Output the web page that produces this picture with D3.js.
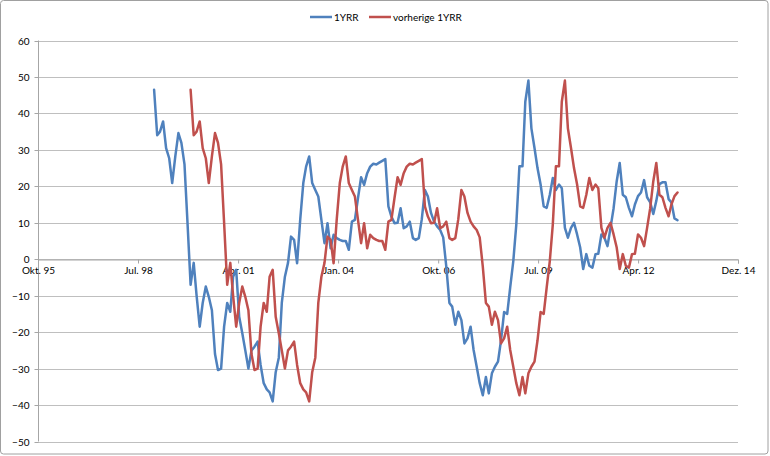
<!DOCTYPE html>
<html>
<head>
<meta charset="utf-8">
<script src="https://cdn.jsdelivr.net/npm/d3@7"></script>
<style>
  html, body { margin: 0; padding: 0; background: #fff; }
  svg { display: block; }
  text { font-family: Lato, "Open Sans", "Liberation Sans", sans-serif; }
</style>
</head>
<body>
<svg id="chart" width="770" height="456"></svg>
<script>
// ---- data ----
const seriesNames = ["1YRR", "vorherige 1YRR"];
const blueStart = "1999-01-01";
const blueValues = [
  46.5, 34, 35, 37.8, 30.5, 27.7, 20.9, 28.2, 34.6, 31.9,
  26, 10, -7, -1, -10, -18.5, -12, -7.5, -10.3, -14,
  -26, -30.4, -30, -18.5, -12, -14.4, -4.8, -2.9, -15.8, -20.3,
  -25, -30, -25, -24, -22.6, -29, -34, -35.7, -36.5, -39,
  -31, -27, -12, -4.8, -1, 6.2, 5.3, -1.1, 10.8, 20.9,
  25.4, 28.2, 20.9, 19, 17.2, 10.8, 4.4, 9.9, 3, 6.7,
  5.8, 5.3, 5, 5, 2.6, 10.3, 10.8, 16.8, 22.5, 20.4,
  23.6, 25.4, 26.2, 26, 26.5, 27, 27.5, 14.5, 11.7, 9.9,
  10, 14, 8.5, 9, 10.3, 5.8, 5.3, 5.8, 11, 19,
  17.2, 12.7, 10.3, 9, 8, 6, -2, -12, -13, -18,
  -14.4, -16.7, -23.1, -21.7, -18.5, -24.9, -29.5, -34, -37.3, -32.3,
  -36.8, -31.3, -29.5, -28.1, -22.3, -14.5, -15, -7.7, -0.5, 9.5,
  25.5, 25.5, 43.2, 49, 35.9, 30.5, 25, 20.5, 14.5, 14.1,
  17.7, 22.3, 19, 20.5, 19.5, 8.6, 5.9, 8.6, 10, 6.8,
  3.2, -2.7, 1.4, -1.8, -2.3, 1.4, 1.5, 6.8, 5.9, 3.6,
  8.6, 14, 21.4, 26.4, 17.7, 17, 14.1, 11.8, 15, 17.3,
  18.3, 21.7, 17, 15.6, 12.4, 16, 20.6, 21.1, 21.1, 16.5,
  15.6, 11.2, 10.7
];
const redStart = "2000-01-01";
const redValues = [
  46.5, 34, 35, 37.8, 30.5, 27.7, 20.9, 28.2, 34.6, 31.9,
  26, 10, -7, -1, -10, -18.5, -12, -7.5, -10.3, -14,
  -26, -30.4, -30, -18.5, -12, -14.4, -4.8, -2.9, -15.8, -20.3,
  -25, -30, -25, -24, -22.6, -29, -34, -35.7, -36.5, -39,
  -31, -27, -12, -4.8, -1, 6.2, 5.3, -1.1, 10.8, 20.9,
  25.4, 28.2, 20.9, 19, 17.2, 10.8, 4.4, 9.9, 3, 6.7,
  5.8, 5.3, 5, 5, 2.6, 10.3, 10.8, 16.8, 22.5, 20.4,
  23.6, 25.4, 26.2, 26, 26.5, 27, 27.5, 14.5, 11.7, 9.9,
  10, 14, 8.5, 9, 10.3, 5.8, 5.3, 5.8, 11, 19,
  17.2, 12.7, 10.3, 9, 8, 6, -2, -12, -13, -18,
  -14.4, -16.7, -23.1, -21.7, -18.5, -24.9, -29.5, -34, -37.3, -32.3,
  -36.8, -31.3, -29.5, -28.1, -22.3, -14.5, -15, -7.7, -0.5, 9.5,
  25.5, 25.5, 43.2, 49, 35.9, 30.5, 25, 20.5, 14.5, 14.1,
  17.7, 22.3, 19, 20.5, 19.5, 8.6, 5.9, 8.6, 10, 6.8,
  3.2, -2.7, 1.4, -1.8, -2.3, 1.4, 1.5, 6.8, 5.9, 3.6,
  8.6, 14, 21.4, 26.4, 17.7, 17, 14.1, 11.8, 15, 17.3,
  18.3
];
const xTickDates = ["1995-10-28", "1998-07-24", "2001-04-20", "2004-01-15", "2006-10-12", "2009-07-07", "2012-04-02", "2014-12-27"];
const xTickLabels = ["Okt. 95", "Jul. 98", "Apr. 01", "Jan. 04", "Okt. 06", "Jul. 09", "Apr. 12", "Dez. 14"];
const yTicks = [60, 50, 40, 30, 20, 10, 0, -10, -20, -30, -40, -50];
const colors = ["#4F81BD", "#C0504D"];

// ---- build ----
const parse = d3.utcParse("%Y-%m-%d");
function monthly(start, values) {
  const s = parse(start);
  return values.map((v, i) => ({ date: d3.utcMonth.offset(s, i), value: v }));
}
const series = [monthly(blueStart, blueValues), monthly(redStart, redValues)];
const tickDates = xTickDates.map(parse);

const svg = d3.select("#chart");
const W = 770, H = 456;
const plot = { left: 38, right: 738, top: 40.5, bottom: 441.5 };

// chart border
svg.append("rect").attr("x", 0.5).attr("y", 0.5).attr("width", 767.5).attr("height", 453.5)
  .attr("rx", 3).attr("fill", "#fff").attr("stroke", "#a0a0a0").attr("stroke-width", 1);

const x = d3.scaleUtc().domain([tickDates[0], tickDates[tickDates.length - 1]]).range([plot.left, plot.right]);
const y = d3.scaleLinear().domain([-50, 60]).range([plot.bottom, plot.top]);

// gridlines
svg.append("g").selectAll("line").data(yTicks).join("line")
  .attr("x1", plot.left).attr("x2", plot.right)
  .attr("y1", d => Math.round(y(d)) + 0.5).attr("y2", d => Math.round(y(d)) + 0.5)
  .attr("stroke", "#bfbfbf").attr("stroke-width", 1);

// y axis
const yAxis = d3.axisLeft(y).tickValues(yTicks).tickSize(4).tickPadding(5);
const gy = svg.append("g").attr("transform", `translate(${plot.left + 0.5},0)`).call(yAxis);
gy.select(".domain").attr("stroke", "#a6a6a6").attr("d", `M0,${plot.top}V${plot.bottom}`);
gy.selectAll(".tick").attr("transform", d => `translate(0,${Math.round(y(d)) + 0.5})`);
gy.selectAll(".tick line").attr("stroke", "#a6a6a6");
gy.selectAll("text").attr("font-size", 10).attr("fill", "#000")
  .attr("font-family", "Lato, 'Open Sans', sans-serif");

// x axis at zero
const xAxis = d3.axisBottom(x).tickValues(tickDates).tickSize(4).tickPadding(3)
  .tickFormat((d, i) => xTickLabels[i]);
const gx = svg.append("g").attr("transform", `translate(0,${Math.round(y(0)) + 0.5})`).call(xAxis);
gx.select(".domain").attr("stroke", "#a6a6a6");
gx.selectAll(".tick line").attr("stroke", "#a6a6a6");
gx.selectAll("text").attr("font-size", 10).attr("fill", "#000")
  .attr("font-family", "Lato, 'Open Sans', sans-serif");

// lines
const line = d3.line().x(d => x(d.date)).y(d => y(d.value)).curve(d3.curveLinear);
svg.append("g").selectAll("path").data(series).join("path")
  .attr("d", line).attr("fill", "none")
  .attr("stroke", (d, i) => colors[i]).attr("stroke-width", 2.5)
  .attr("stroke-linejoin", "round").attr("stroke-linecap", "round");

// legend
const legendX = [310, 369];
const lg = svg.append("g");
seriesNames.forEach((name, i) => {
  lg.append("line").attr("x1", legendX[i]).attr("x2", legendX[i] + 22)
    .attr("y1", 17).attr("y2", 17).attr("stroke", colors[i]).attr("stroke-width", 2.5);
  lg.append("text").attr("x", legendX[i] + 24).attr("y", 20.5).attr("font-size", 10)
    .attr("fill", "#000").text(name);
});
</script>
</body>
</html>
